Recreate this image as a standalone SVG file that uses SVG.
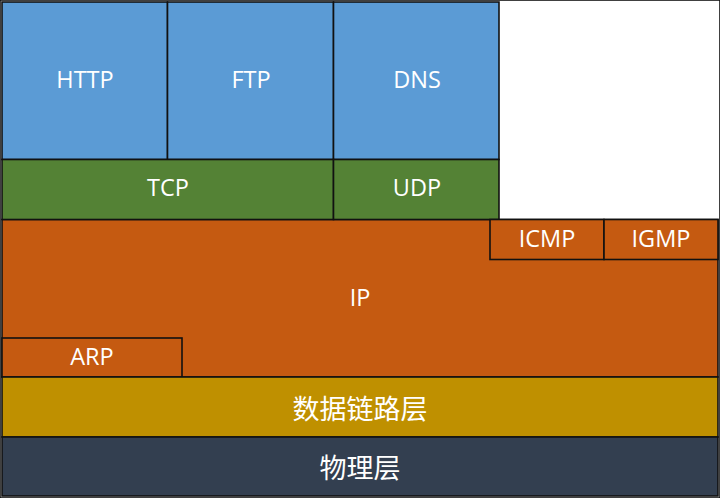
<svg xmlns="http://www.w3.org/2000/svg" width="720" height="498" viewBox="0 0 720 498">
<style>
rect{stroke:#111;stroke-width:1.6}
.app{fill:#5B9BD5}.tp{fill:#548235}.ip{fill:#C55A11}.dl{fill:#BF9000}.ph{fill:#333F50}
text{fill:#fff;font-family:"Open Sans","Noto Sans CJK SC",sans-serif;font-size:23.5px;text-anchor:middle}
text.zh{font-family:"Noto Sans CJK SC",sans-serif;font-size:27px}
</style>
<rect x="0" y="0" width="720" height="498" fill="#fff" stroke="none"/>
<g id="ip"><path class="ip" d="M2,219.5 H718 V377 H2 Z" style="stroke:#111;stroke-width:1.6"/><text x="360" y="306">IP</text></g>
<g id="http"><rect class="app" x="2" y="2" width="165.5" height="157.5"/><text x="85" y="88">HTTP</text></g>
<g id="ftp"><rect class="app" x="167.5" y="2" width="166" height="157.5"/><text x="251" y="88">FTP</text></g>
<g id="dns"><rect class="app" x="333.5" y="2" width="165.5" height="157.5"/><text x="417" y="88">DNS</text></g>
<g id="tcp"><rect class="tp" x="2" y="159.5" width="331.5" height="60"/><text x="168" y="196">TCP</text></g>
<g id="udp"><rect class="tp" x="333.5" y="159.5" width="165.5" height="60"/><text x="417" y="196">UDP</text></g>
<g id="icmp"><rect class="ip" x="490" y="219.5" width="114" height="40"/><text x="547" y="247">ICMP</text></g>
<g id="igmp"><rect class="ip" x="604" y="219.5" width="114" height="40"/><text x="661" y="247">IGMP</text></g>
<g id="arp"><rect class="ip" x="2" y="338" width="180" height="39"/><text x="92" y="365">ARP</text></g>
<g id="datalink"><rect class="dl" x="2" y="377" width="716" height="60"/><text class="zh" x="360" y="419">数据链路层</text></g>
<g id="physical"><rect class="ph" x="2" y="437" width="716" height="59"/><text class="zh" x="360" y="478">物理层</text></g>
<g id="connectors"></g>
</svg>
